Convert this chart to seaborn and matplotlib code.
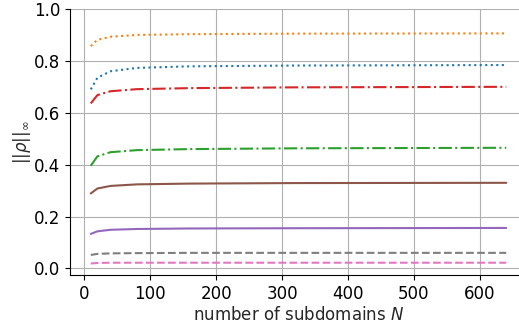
import numpy as np
import pandas as pd
import matplotlib
matplotlib.use('Agg')
import matplotlib.pyplot as plt
import seaborn as sns

sns.set_style('ticks')

n_subdomains = [10, 20, 40, 80, 160, 320, 640]

rho_blue = [0.690, 0.735, 0.760, 0.773, 0.779, 0.782, 0.784]
rho_orange = [0.857, 0.881, 0.893, 0.900, 0.903, 0.905, 0.906]
rho_green = [0.396, 0.432, 0.448, 0.456, 0.460, 0.463, 0.465]
rho_red = [0.636, 0.668, 0.683, 0.691, 0.695, 0.698, 0.700]
rho_purple = [0.133, 0.143, 0.149, 0.152, 0.154, 0.155, 0.156]
rho_brown = [0.289, 0.308, 0.318, 0.324, 0.327, 0.329, 0.330]
rho_pink = [0.019, 0.021, 0.022, 0.022, 0.022, 0.022, 0.022]
rho_gray = [0.052, 0.056, 0.058, 0.059, 0.060, 0.060, 0.060]

series = [
    (rho_blue, 'C0', ':'),
    (rho_orange, 'C1', ':'),
    (rho_green, 'C2', '-.'),
    (rho_red, 'C3', '-.'),
    (rho_purple, 'C4', '-'),
    (rho_brown, 'C5', '-'),
    (rho_pink, 'C6', '--'),
    (rho_gray, 'C7', '--'),
]

fig = plt.figure(figsize=(5.19, 3.24), dpi=100)
ax = fig.add_axes([70 / 519, 49 / 324, (527 - 70) / 519, (275 - 9) / 324])

for values, color, ls in series:
    df = pd.DataFrame({'N': n_subdomains, 'rho': values})
    sns.lineplot(data=df, x='N', y='rho', color=color, linestyle=ls, linewidth=1.5, ax=ax)

ax.set_ylim(top=1.0)
ax.grid(True, color='#b0b0b0', linewidth=0.8)
ax.set_axisbelow(True)
sns.despine(ax=ax)
for side in ['left', 'bottom']:
    ax.spines[side].set_color('black')
ax.tick_params(colors='black', labelsize=12)
ax.set_xlabel('number of subdomains $N$', fontsize=12, labelpad=2)
ax.set_ylabel(r'$||\rho||_\infty$', fontsize=12, labelpad=0.5)

fig.savefig('out.png', dpi=100)
